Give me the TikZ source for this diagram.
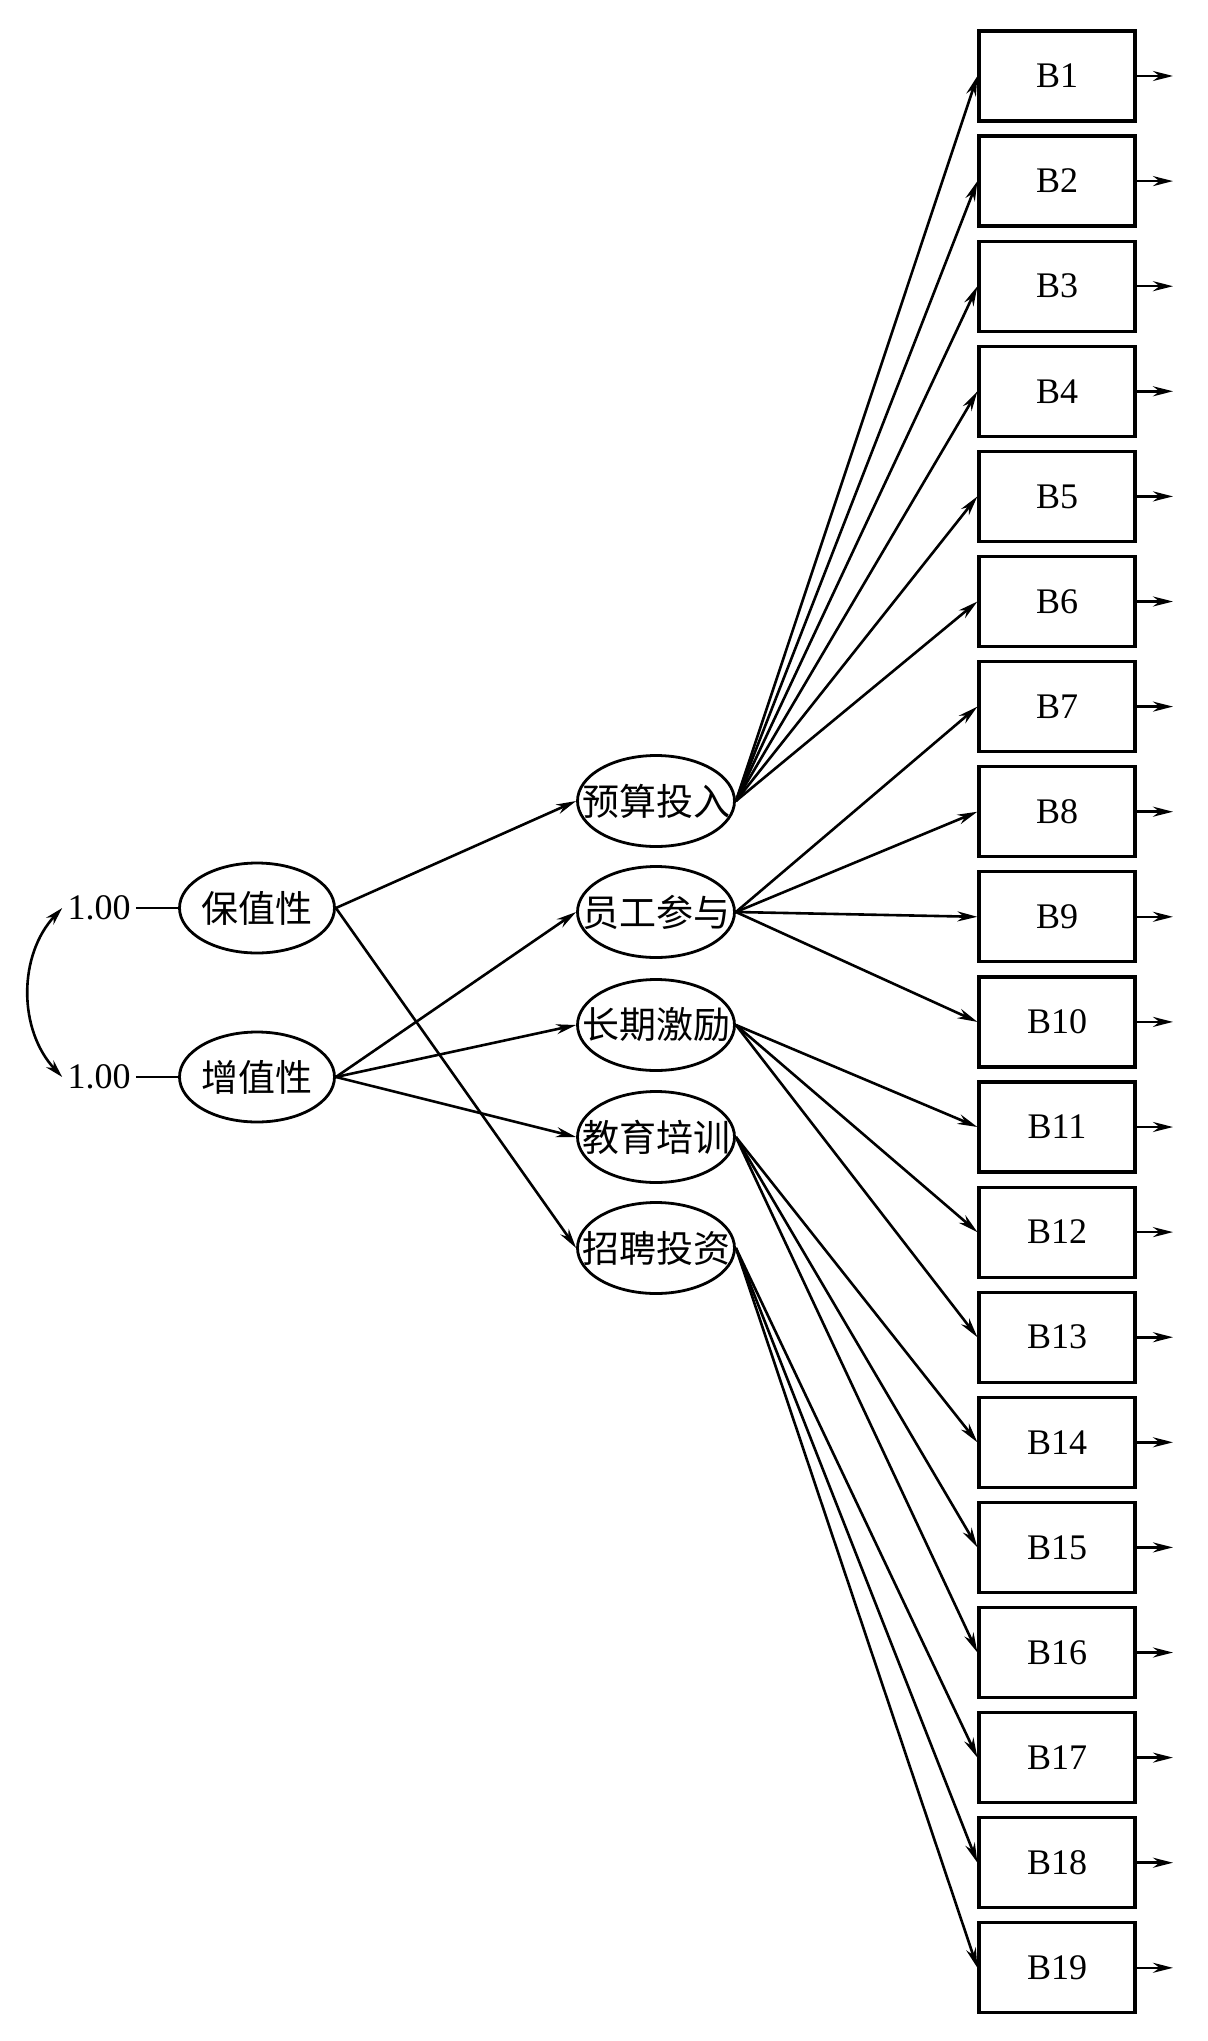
\documentclass[tikz,border=0pt]{standalone}
\usepackage{fontspec}
\setmainfont{Liberation Serif}
\newfontfamily\cjk{Noto Sans CJK SC}
\usetikzlibrary{shapes.geometric,arrows.meta}
\begin{document}
\begin{tikzpicture}[x=1pt,y=-1pt,line width=2.6pt,
  lat/.style={ellipse,draw,line width=2.8pt,minimum width=155pt,minimum height=90pt,inner sep=0pt,font=\cjk\fontsize{37}{42}\selectfont},
  mid/.style={lat,minimum width=157pt,minimum height=91pt},
  obs/.style={rectangle,draw,line width=3.2pt,minimum width=156pt,minimum height=90pt,inner sep=0pt,font=\fontsize{36}{42}\selectfont},
  val/.style={inner sep=4pt,font=\fontsize{36}{42}\selectfont},
  arr/.style={-{Stealth[length=20pt,width=10pt]}},
  dbl/.style={{Stealth[length=18pt,width=10pt]}-{Stealth[length=18pt,width=10pt]}}
]
\path[use as bounding box] (0,0) rectangle (1207,2041);

% latent variables
\node[lat] (bz) at (257,908) {\makebox[0pt]{保值性}};
\node[lat] (zz) at (257,1077) {\makebox[0pt]{增值性}};
\node[val] (v1) at (99,908) {1.00};
\node[val] (v2) at (99,1077) {1.00};
\draw (v1.east) -- (bz.west);
\draw (v2.east) -- (zz.west);
\draw[dbl] (v1.west) .. controls (18,955) and (18,1030) .. (v2.west);

% middle factors
\node[mid] (m1) at (656,801) {\makebox[0pt]{预算投入}};
\node[mid] (m2) at (656,912) {\makebox[0pt]{员工参与}};
\node[mid] (m3) at (656,1025) {\makebox[0pt]{长期激励}};
\node[mid] (m4) at (656,1137) {\makebox[0pt]{教育培训}};
\node[mid] (m5) at (656,1248) {\makebox[0pt]{招聘投资}};

\draw[arr] (bz.east) -- (m1.west);
\draw[arr] (bz.east) -- (m5.west);
\draw[arr] (zz.east) -- (m2.west);
\draw[arr] (zz.east) -- (m3.west);
\draw[arr] (zz.east) -- (m4.west);

% observed boxes
\foreach \i in {1,...,19} {
  \node[obs] (B\i) at (1057,{76+105.1*(\i-1)}) {B\i};
  \coordinate (o\i) at (1173,{76+105.1*(\i-1)});
  \draw[arr] (B\i.east) -- (o\i);
}

\foreach \i in {1,...,6} {\draw[arr] (m1.east) -- (B\i.west);}
\foreach \i in {7,...,10} {\draw[arr] (m2.east) -- (B\i.west);}
\foreach \i in {11,...,13} {\draw[arr] (m3.east) -- (B\i.west);}
\foreach \i in {14,...,16} {\draw[arr] (m4.east) -- (B\i.west);}
\foreach \i in {17,...,19} {\draw[arr] (m5.east) -- (B\i.west);}
\end{tikzpicture}
\end{document}
